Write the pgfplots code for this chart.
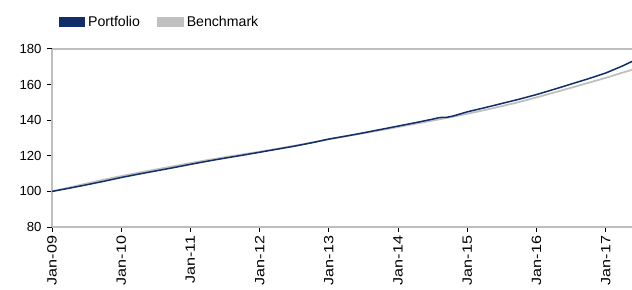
\documentclass[border=0pt]{standalone}
\usepackage{pgfplots}
\pgfplotsset{compat=1.18}
\usepackage{fontspec}
\setmainfont{Liberation Sans}
\definecolor{navy}{RGB}{16,46,104}
\definecolor{bench}{RGB}{192,192,192}
\definecolor{axgray}{RGB}{190,190,190}
\begin{document}
\begin{tikzpicture}
\useasboundingbox (-52bp,-63bp) rectangle (580bp,227bp);
\begin{axis}[
  at={(0,0)}, anchor=south west,
  scale only axis, width=580bp, height=178bp,
  xmin=0, xmax=8.38, ymin=80, ymax=180,
  axis x line*=bottom, axis y line*=left,
  axis line style={axgray, line width=1.2bp, -},
  xtick={0,1,2,3,4,5,6,7,8},
  xticklabels={Jan-09,Jan-10,Jan-11,Jan-12,Jan-13,Jan-14,Jan-15,Jan-16,Jan-17},
  ytick={80,100,120,140,160,180},
  tick align=outside, major tick length=4.5bp,
  tick style={black, line width=1bp},
  /pgf/number format/assume math mode=true,
  yticklabel style={font=\fontsize{13.2}{15}\selectfont, xshift=-2.5bp},
  xticklabel style={font=\fontsize{13.5}{15}\selectfont, rotate=90, anchor=east, xscale=1.2},
  legend columns=-1,
  reverse legend,
  legend style={draw=none, fill=none, at={(0.011,1.152)}, anchor=west,
    inner xsep=0pt, inner ysep=0pt,
    font=\fontsize{14.2}{16}\selectfont,
    /tikz/every odd column/.append style={column sep=1bp},
    /tikz/every even column/.append style={column sep=15bp}},
  legend image code/.code={\fill[#1] (0bp,-4bp) rectangle (25bp,4bp);},
  clip=false,
]
\addplot[bench, line width=1.8bp] table {
0 100
0.25 102.2
0.5 104.4
0.75 106.6
1.0 108.6
1.25 110.5
1.5 112.3
1.75 114.1
2.0 115.9
2.25 117.6
2.5 119.2
2.75 120.8
3.0 122.3
3.25 123.9
3.5 125.6
3.75 127.4
4.0 129.3
4.25 131.0
4.5 132.7
4.75 134.4
5.0 136.2
5.25 138.0
5.5 139.8
5.75 141.6
6.0 143.6
6.25 145.7
6.5 147.9
6.75 150.2
7.0 152.8
7.25 155.5
7.5 158.2
7.75 161.0
8.0 163.8
8.25 166.8
8.38 168.3
};
\addplot[navy, line width=1.5bp] table {
0 100
0.25 101.8
0.5 103.7
0.75 105.7
1.0 107.8
1.25 109.7
1.5 111.5
1.75 113.3
2.0 115.2
2.25 117.0
2.5 118.7
2.75 120.3
3.0 122.0
3.25 123.7
3.5 125.4
3.75 127.3
4.0 129.4
4.25 131.1
4.5 132.9
4.75 134.8
5.0 136.7
5.25 138.6
5.5 140.6
5.6 141.5
5.7 141.6
5.8 142.4
6.0 144.7
6.25 147.0
6.5 149.4
6.75 151.8
7.0 154.4
7.25 157.3
7.5 160.3
7.75 163.3
8.0 166.5
8.25 170.6
8.38 173.0
};
\draw[axgray, line width=1.2bp] (axis cs:0,180) -- (axis cs:8.38,180);
\legend{Benchmark, Portfolio}
\end{axis}
\end{tikzpicture}
\end{document}
